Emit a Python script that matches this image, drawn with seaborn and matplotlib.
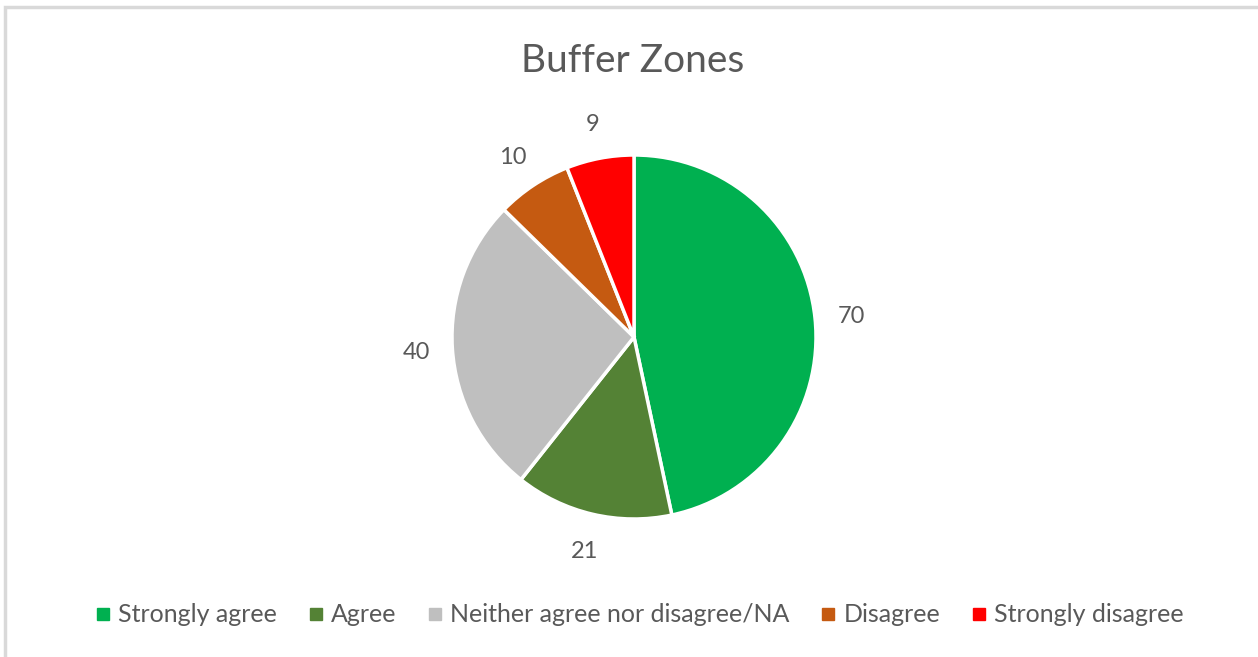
import matplotlib
matplotlib.use("Agg")
import matplotlib.pyplot as plt
import seaborn as sns
from matplotlib.patches import Rectangle
from matplotlib.lines import Line2D

categories = ["Strongly agree", "Agree", "Neither agree nor disagree/NA", "Disagree", "Strongly disagree"]
values = [70, 21, 40, 10, 9]
colors = ["#00B050", "#548235", "#BFBFBF", "#C55A11", "#FF0000"]
title = "Buffer Zones"

sns.set_theme(style="white")
plt.rcParams['font.family'] = ['Lato', 'DejaVu Sans']
text_color = "#595959"

W, H = 1258, 657
fig = plt.figure(figsize=(W / 100, H / 100), dpi=100)
fig.patch.set_facecolor("white")

# light border (top & left visible)
fig.patches.append(Rectangle((5 / W, -0.1), 1.2, (H - 7) / H + 0.1, transform=fig.transFigure,
                             fill=False, edgecolor="#D9D9D9", linewidth=2.5))

cx, cy, R = 634, 337, 182
ax = fig.add_axes([(cx - R) / W, (H - cy - R) / H, 2 * R / W, 2 * R / H])
wedges, texts = ax.pie(values, colors=colors, startangle=90, counterclock=False,
                       labels=[str(v) for v in values], labeldistance=1.2,
                       wedgeprops=dict(edgecolor="white", linewidth=2.5),
                       textprops=dict(color=text_color, fontsize=17))
for t in texts:
    t.set_horizontalalignment("center")
    t.set_verticalalignment("center_baseline")
ax.set_xlim(-1, 1)
ax.set_ylim(-1, 1)
ax.set_aspect("equal")
ax.axis("off")

fig.text(633 / W, 1 - 61 / H, title, ha="center", va="center", fontsize=28, color=text_color)

handles = [Line2D([0], [0], marker="s", linestyle="none", markersize=8,
                  markerfacecolor=c, markeredgecolor=c) for c in colors]
fig.legend(handles, categories, loc="center", bbox_to_anchor=(639 / W, 1 - 615 / H), ncol=5,
           frameon=False, fontsize=18, labelcolor=text_color, handletextpad=0.25,
           columnspacing=1.2, handlelength=0.7)

fig.savefig("out.png", dpi=100, facecolor="white")
